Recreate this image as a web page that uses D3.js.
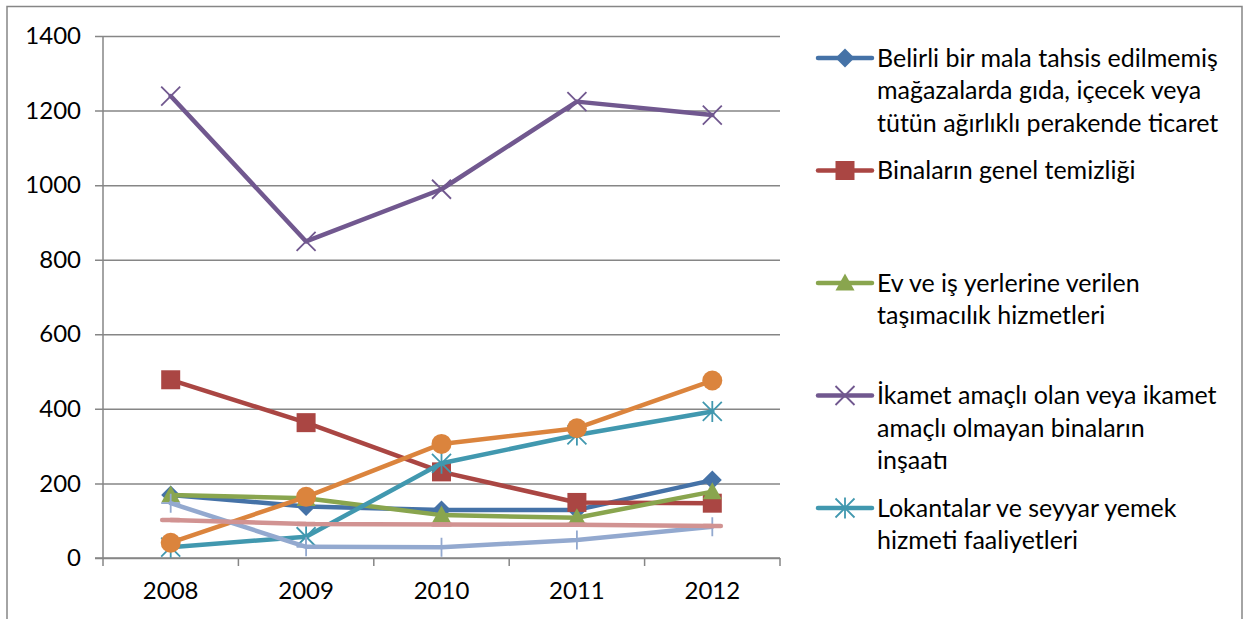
<!DOCTYPE html>
<html>
<head>
<meta charset="utf-8">
<script src="https://cdn.jsdelivr.net/npm/d3@7"></script>
<style>
  body { margin: 0; background: #fff; }
  text { font-family: Lato, "Open Sans", sans-serif; fill: #000; }
</style>
</head>
<body>
<div id="chart"></div>
<script>
const years = ["2008", "2009", "2010", "2011", "2012"];
const yTicks = [0, 200, 400, 600, 800, 1000, 1200, 1400];

const perakende = [169, 138, 129, 129, 209];
const temizlik = [478, 363, 231, 149, 147];
const tasimacilik = [169, 160, 115, 108, 178];
const insaat = [1239, 849, 989, 1224, 1188];
const lokanta = [29, 57, 254, 330, 393];
const seri6 = [41, 164, 306, 348, 476];
const seri7 = [147, 30, 29, 48, 84];
const seri8 = [102, 91, 90, 89, 86];

// only the first five legend entries fit in the original box
const legendLabels = [
    ["Belirli bir mala tahsis edilmemiş", "mağazalarda gıda, içecek veya", "tütün ağırlıklı perakende ticaret"],
    ["Binaların genel temizliği"],
    ["Ev ve iş yerlerine verilen", "taşımacılık hizmetleri"],
    ["İkamet amaçlı olan veya ikamet", "amaçlı olmayan binaların", "inşaatı"],
    ["Lokantalar ve seyyar yemek", "hizmeti faaliyetleri"]
];

const series = [
    {values: perakende, color: "#4572A7", marker: "diamond"},
    {values: temizlik, color: "#AA4643", marker: "square"},
    {values: tasimacilik, color: "#89A54E", marker: "triangle"},
    {values: insaat, color: "#71588F", marker: "x"},
    {values: lokanta, color: "#4198AF", marker: "asterisk"},
    {values: seri6, color: "#DB843D", marker: "circle"},
    {values: seri7, color: "#93A9CF", marker: "plus"},
    {values: seri8, color: "#D19392", marker: "dash"}
];

const W = 1244, H = 619;
const plot = {left: 103, right: 780, top: 36, bottom: 558};
const gridColor = "#868686";
const fontSize = 24;
const legendFontSize = 25;

// marker paths, r = half size
const markerPath = (type, r) => {
    const p = d3.path();
    if (type === "diamond") {
        p.moveTo(0, -r); p.lineTo(r, 0); p.lineTo(0, r); p.lineTo(-r, 0); p.closePath();
    } else if (type === "square") {
        p.rect(-r, -r, 2 * r, 2 * r);
    } else if (type === "triangle") {
        p.moveTo(0, -r); p.lineTo(r, r * 0.8); p.lineTo(-r, r * 0.8); p.closePath();
    } else if (type === "circle") {
        p.arc(0, 0, r, 0, 2 * Math.PI);
    } else if (type === "x") {
        p.moveTo(-r, -r); p.lineTo(r, r); p.moveTo(-r, r); p.lineTo(r, -r);
    } else if (type === "asterisk") {
        p.moveTo(-r, -r); p.lineTo(r, r); p.moveTo(-r, r); p.lineTo(r, -r);
        p.moveTo(0, -r * 1.1); p.lineTo(0, r * 1.1);
    } else if (type === "plus") {
        p.moveTo(0, -r); p.lineTo(0, r); p.moveTo(-r, 0); p.lineTo(r, 0);
    } else if (type === "dash") {
        p.moveTo(-r * 0.9, 0); p.lineTo(r * 0.9, 0);
    }
    return p.toString();
};
const isStroked = t => ["x", "asterisk", "plus", "dash"].includes(t);

const drawMarker = (g, s) => {
    const r = s.marker === "circle" ? 10 : 9.5;
    g.append("path")
        .attr("d", markerPath(s.marker, r))
        .attr("fill", isStroked(s.marker) ? "none" : s.color)
        .attr("stroke", s.color)
        .attr("stroke-width", s.marker === "dash" ? 4.5 : (isStroked(s.marker) ? 1.8 : 0))
        .attr("stroke-linecap", s.marker === "dash" ? "round" : "butt");
};

const svg = d3.select("#chart").append("svg")
    .attr("width", W)
    .attr("height", H)
    .style("display", "block");

svg.append("rect")
    .attr("x", 7).attr("y", 6.5)
    .attr("width", 1235).attr("height", 640)
    .attr("fill", "#fff")
    .attr("stroke", gridColor)
    .attr("stroke-width", 1.5);

const x = d3.scaleBand()
    .domain(years)
    .range([plot.left, plot.right]);

const y = d3.scaleLinear()
    .domain([0, 1400])
    .range([plot.bottom, plot.top]);

// horizontal gridlines + y axis
const yAxis = d3.axisLeft(y)
    .tickValues(yTicks)
    .tickSize(-(plot.right - plot.left))
    .tickPadding(22)
    .tickFormat(d3.format("d"));

const gy = svg.append("g")
    .attr("transform", `translate(${plot.left},0)`)
    .call(yAxis);
gy.select(".domain").remove();
gy.selectAll(".tick line")
    .attr("x1", -8)
    .attr("stroke", gridColor)
    .attr("stroke-width", 1.5);
gy.selectAll(".tick text")
    .attr("font-size", fontSize)
    .attr("font-family", "Lato, sans-serif")
    .attr("fill", "#000");

svg.append("line")
    .attr("x1", plot.left).attr("x2", plot.left)
    .attr("y1", plot.top).attr("y2", plot.bottom)
    .attr("stroke", gridColor)
    .attr("stroke-width", 1.5);

// x axis: ticks on category boundaries
const xAxis = d3.axisBottom(x).tickSize(0).tickPadding(24);
const gx = svg.append("g")
    .attr("transform", `translate(0,${plot.bottom})`)
    .call(xAxis);
gx.select(".domain")
    .attr("stroke", gridColor)
    .attr("stroke-width", 1.5)
    .attr("d", `M${plot.left - 8},0H${plot.right}`);
gx.selectAll(".tick text")
    .attr("font-size", fontSize)
    .attr("font-family", "Lato, sans-serif")
    .attr("fill", "#000");

const bounds = years.map(d => x(d)).concat([plot.right]);
gx.selectAll("line.bound")
    .data(bounds)
    .join("line")
    .attr("class", "bound")
    .attr("x1", d => d).attr("x2", d => d)
    .attr("y1", 0).attr("y2", 8)
    .attr("stroke", gridColor)
    .attr("stroke-width", 1.5);

const cx = d => x(d) + x.bandwidth() / 2;

const line = d3.line()
    .x((d, i) => cx(years[i]))
    .y(d => y(d));

series.forEach(s => {
    const g = svg.append("g");
    g.append("path")
        .attr("d", line(s.values))
        .attr("fill", "none")
        .attr("stroke", s.color)
        .attr("stroke-width", 4.5)
        .attr("stroke-linejoin", "round")
        .attr("stroke-linecap", "round");
    s.values.forEach((v, i) => {
        const m = g.append("g").attr("transform", `translate(${cx(years[i])},${y(v)})`);
        drawMarker(m, s);
    });
});

// legend
const legendRow = d3.scaleLinear().domain([0, 4]).range([58, 508]);
legendLabels.forEach((lines, i) => {
    const s = series[i];
    const g = svg.append("g").attr("transform", `translate(0,${legendRow(i)})`);
    g.append("line")
        .attr("x1", 818).attr("x2", 872)
        .attr("stroke", s.color)
        .attr("stroke-width", 4.5)
        .attr("stroke-linecap", "round");
    const m = g.append("g").attr("transform", "translate(845,0)");
    drawMarker(m, s);
    g.append("text")
        .attr("x", 877)
        .attr("font-size", legendFontSize)
        .selectAll("tspan")
        .data(lines)
        .join("tspan")
        .attr("x", 877)
        .attr("y", (d, j) => j * 32.5)
        .attr("dy", "0.35em")
        .text(d => d);
});
</script>
</body>
</html>
